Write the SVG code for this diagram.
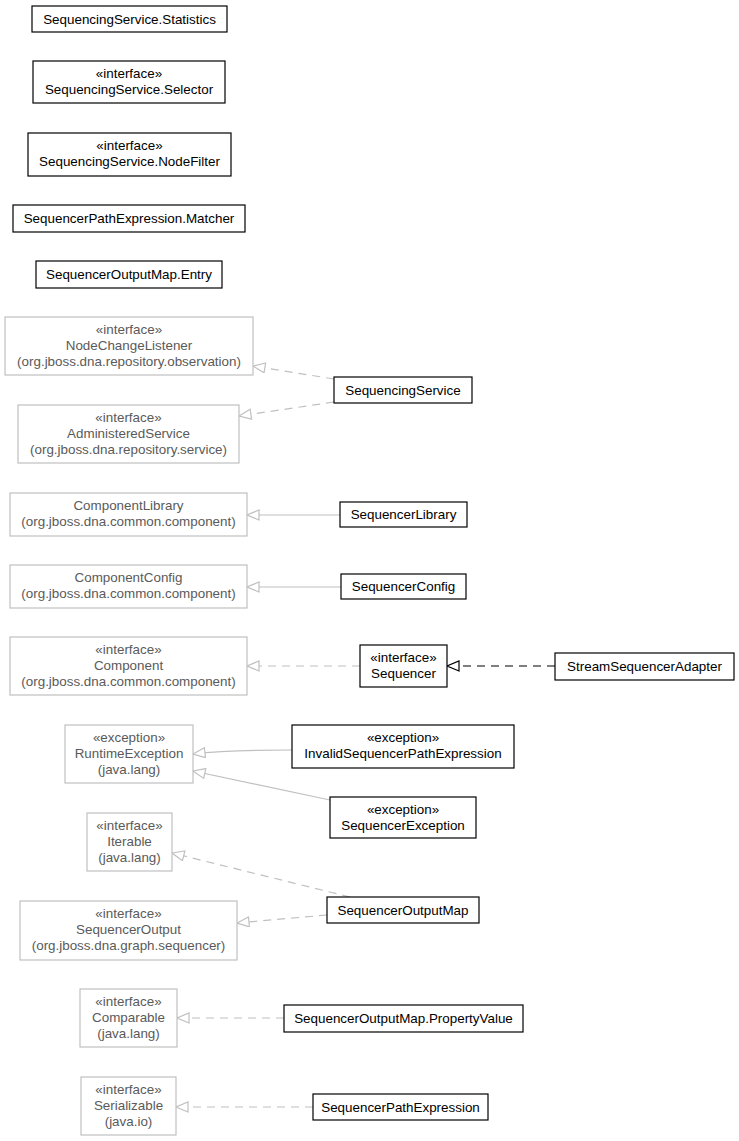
<svg xmlns="http://www.w3.org/2000/svg" width="739" height="1141" viewBox="0 0 739 1141">
<style>
text{font-family:"Liberation Sans",Arial,sans-serif;font-size:13.4px;text-anchor:middle}
.b rect{fill:#fff;stroke:#000;stroke-width:1.2}
.g rect{fill:#fff;stroke:#c0c0c0;stroke-width:1.2}
.g text{fill:#5a5a5a}
.b text{fill:#000}
.e{fill:none;stroke:#c0c0c0;stroke-width:1.2}
.d{stroke-dasharray:8,6}
.k{fill:none;stroke:#000;stroke-width:1.2;stroke-dasharray:8,6}
</style>
<defs>
<marker id="tg" markerUnits="userSpaceOnUse" markerWidth="16" markerHeight="14" refX="13" refY="5.5" orient="auto">
<path d="M1,0.5 L13,5.5 L1,10.5 z" fill="#fff" stroke="#c0c0c0" stroke-width="1.2" stroke-dasharray="none"/>
</marker>
<marker id="tb" markerUnits="userSpaceOnUse" markerWidth="16" markerHeight="14" refX="13" refY="5.5" orient="auto">
<path d="M1,0.5 L13,5.5 L1,10.5 z" fill="#fff" stroke="#000" stroke-width="1.2" stroke-dasharray="none"/>
</marker>
</defs>
<g id="connectors">
<path class="e d" d="M334,379 L253,366" marker-end="url(#tg)"/>
<path class="e d" d="M334,402 L239,416" marker-end="url(#tg)"/>
<path class="e" d="M340,515 L247,515" marker-end="url(#tg)"/>
<path class="e" d="M341,587 L247,587" marker-end="url(#tg)"/>
<path class="e d" d="M360,666 L247,666" marker-end="url(#tg)"/>
<path class="k" d="M555,666 L447,666" marker-end="url(#tb)"/>
<path class="e" d="M292,750 C250,750 220,751 193,754" marker-end="url(#tg)"/>
<path class="e" d="M330,800 L193,771" marker-end="url(#tg)"/>
<path class="e d" d="M350,897 L172,853" marker-end="url(#tg)"/>
<path class="e d" d="M327,915 L237,923" marker-end="url(#tg)"/>
<path class="e d" d="M284,1018 L177,1018" marker-end="url(#tg)"/>
<path class="e d" d="M313,1107 L176,1107" marker-end="url(#tg)"/>
</g>
<g id="n1" class="b"><rect x="32" y="6" width="195" height="26"/><text x="129.5" y="23.5">SequencingService.Statistics</text></g>
<g id="n2" class="b"><rect x="33" y="61" width="192" height="42"/><text x="129" y="78">«interface»</text><text x="129" y="94">SequencingService.Selector</text></g>
<g id="n3" class="b"><rect x="28" y="133" width="203" height="43"/><text x="129.5" y="150">«interface»</text><text x="129.5" y="166">SequencingService.NodeFilter</text></g>
<g id="n4" class="b"><rect x="13" y="205" width="232" height="27"/><text x="129" y="223">SequencerPathExpression.Matcher</text></g>
<g id="n5" class="b"><rect x="36" y="261" width="186" height="27"/><text x="129" y="279">SequencerOutputMap.Entry</text></g>
<g id="n6" class="g"><rect x="5" y="317" width="248" height="58"/><text x="129" y="334">«interface»</text><text x="129" y="350">NodeChangeListener</text><text x="129" y="366">(org.jboss.dna.repository.observation)</text></g>
<g id="n7" class="g"><rect x="18" y="405" width="221" height="58"/><text x="128.5" y="422">«interface»</text><text x="128.5" y="438">AdministeredService</text><text x="128.5" y="454">(org.jboss.dna.repository.service)</text></g>
<g id="n8" class="b"><rect x="334" y="377" width="138" height="26"/><text x="403" y="394.5">SequencingService</text></g>
<g id="n9" class="g"><rect x="10" y="493" width="237" height="43"/><text x="128.5" y="510">ComponentLibrary</text><text x="128.5" y="526">(org.jboss.dna.common.component)</text></g>
<g id="n10" class="b"><rect x="340" y="502" width="127" height="25"/><text x="403.5" y="519">SequencerLibrary</text></g>
<g id="n11" class="g"><rect x="10" y="565" width="237" height="43"/><text x="128.5" y="582">ComponentConfig</text><text x="128.5" y="598">(org.jboss.dna.common.component)</text></g>
<g id="n12" class="b"><rect x="341" y="574" width="125" height="25"/><text x="403.5" y="591">SequencerConfig</text></g>
<g id="n13" class="g"><rect x="10" y="637" width="237" height="58"/><text x="128.5" y="654">«interface»</text><text x="128.5" y="670">Component</text><text x="128.5" y="686">(org.jboss.dna.common.component)</text></g>
<g id="n14" class="b"><rect x="360" y="645" width="87" height="42"/><text x="403.5" y="662">«interface»</text><text x="403.5" y="678">Sequencer</text></g>
<g id="n15" class="b"><rect x="555" y="653" width="179" height="27"/><text x="644.5" y="671">StreamSequencerAdapter</text></g>
<g id="n16" class="g"><rect x="65" y="725" width="128" height="58"/><text x="129" y="742">«exception»</text><text x="129" y="758">RuntimeException</text><text x="129" y="774">(java.lang)</text></g>
<g id="n17" class="b"><rect x="292" y="725" width="222" height="43"/><text x="403" y="742">«exception»</text><text x="403" y="758">InvalidSequencerPathExpression</text></g>
<g id="n18" class="b"><rect x="330" y="797" width="146" height="41"/><text x="403" y="814">«exception»</text><text x="403" y="830">SequencerException</text></g>
<g id="n19" class="g"><rect x="87" y="813" width="85" height="58"/><text x="129.5" y="830">«interface»</text><text x="129.5" y="846">Iterable</text><text x="129.5" y="862">(java.lang)</text></g>
<g id="n20" class="g"><rect x="20" y="901" width="217" height="59"/><text x="128.5" y="918">«interface»</text><text x="128.5" y="934">SequencerOutput</text><text x="128.5" y="950">(org.jboss.dna.graph.sequencer)</text></g>
<g id="n21" class="b"><rect x="327" y="897" width="152" height="26"/><text x="403" y="914.5">SequencerOutputMap</text></g>
<g id="n22" class="g"><rect x="80" y="989" width="97" height="58"/><text x="128.5" y="1006">«interface»</text><text x="128.5" y="1022">Comparable</text><text x="128.5" y="1038">(java.lang)</text></g>
<g id="n23" class="b"><rect x="284" y="1005" width="239" height="27"/><text x="403.5" y="1023">SequencerOutputMap.PropertyValue</text></g>
<g id="n24" class="g"><rect x="81" y="1077" width="95" height="58"/><text x="128.5" y="1094">«interface»</text><text x="128.5" y="1110">Serializable</text><text x="128.5" y="1126">(java.io)</text></g>
<g id="n25" class="b"><rect x="313" y="1094" width="175" height="26"/><text x="400.5" y="1111.5">SequencerPathExpression</text></g>
</svg>
